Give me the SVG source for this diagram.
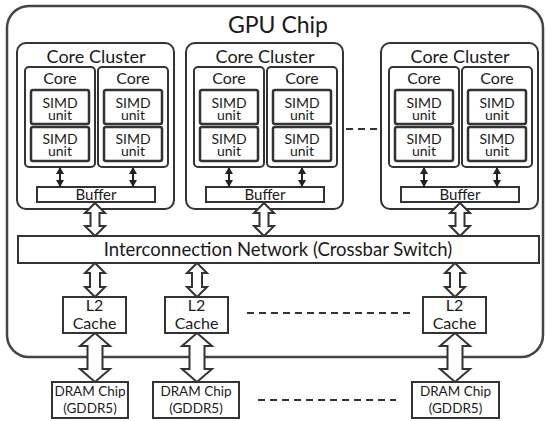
<svg xmlns="http://www.w3.org/2000/svg" width="546" height="421" viewBox="0 0 546 421">
<defs>
<style>
.box{fill:#fff;stroke:#333;stroke-width:2}
.simd{fill:#fff;stroke:#333;stroke-width:2.5}
.outer{fill:#fff;stroke:#444;stroke-width:2.5}
.t{font-family:Lato,"Open Sans",sans-serif;fill:#1a1a1a;text-anchor:middle}
.hollow{fill:#fff;stroke:#333;stroke-width:2;stroke-linejoin:miter}
.small{stroke:#222;stroke-width:2;fill:none}
.dash{stroke:#333;stroke-width:2;stroke-dasharray:7 5;fill:none}
</style>
<marker id="ah" viewBox="0 0 7 8" refX="6.5" refY="4" markerWidth="7" markerHeight="8" orient="auto-start-reverse" markerUnits="userSpaceOnUse">
<path d="M0,0 L7,4 L0,8 Z" fill="#222"/>
</marker>
<g id="core">
<rect class="box" x="0" y="0" width="70" height="100" rx="4"/>
<text class="t" x="35" y="16.5" font-size="16">Core</text>
<rect class="simd" x="6" y="23" width="58" height="34" rx="2"/>
<text class="t" x="35" y="40.5" font-size="14">SIMD</text>
<text class="t" x="35" y="52.5" font-size="14">unit</text>
<rect class="simd" x="6" y="60" width="58" height="34" rx="2"/>
<text class="t" x="35" y="77" font-size="14">SIMD</text>
<text class="t" x="35" y="89" font-size="14">unit</text>
</g>
<g id="clusterBody">
<rect class="box" x="0" y="0" width="157" height="166" rx="9"/>
<text class="t" x="79" y="19.5" font-size="18">Core Cluster</text>
<rect class="box" x="20" y="144" width="118" height="15"/>
<text class="t" x="79" y="157" font-size="15">Buffer</text>
</g>
</defs>
<g id="gpu-chip">
<rect class="outer" x="7" y="6" width="536" height="351" rx="22"/>
<text class="t" x="278" y="33" font-size="23">GPU Chip</text>
</g>
<g id="cluster1" transform="translate(17,43)">
<use href="#clusterBody"/>
<g id="cluster1-core1" transform="translate(8,24)"><use href="#core"/></g>
<g id="cluster1-core2" transform="translate(81,24)"><use href="#core"/></g>
</g>
<g id="cluster2" transform="translate(186,43)">
<use href="#clusterBody"/>
<g id="cluster2-core1" transform="translate(8,24)"><use href="#core"/></g>
<g id="cluster2-core2" transform="translate(81,24)"><use href="#core"/></g>
</g>
<g id="cluster3" transform="translate(381,43)">
<use href="#clusterBody"/>
<g id="cluster3-core1" transform="translate(8,24)"><use href="#core"/></g>
<g id="cluster3-core2" transform="translate(81,24)"><use href="#core"/></g>
</g>
<g id="interconnect">
<rect class="box" x="18" y="236" width="521" height="27"/>
<text class="t" x="278" y="256" font-size="18.5">Interconnection Network (Crossbar Switch)</text>
</g>
<g id="l2-1">
<rect class="box" x="63" y="297" width="63" height="36"/>
<text class="t" x="94.5" y="311" font-size="16">L2</text>
<text class="t" x="94.5" y="329" font-size="16">Cache</text>
</g>
<g id="l2-2">
<rect class="box" x="165" y="297" width="63" height="36"/>
<text class="t" x="196.5" y="311" font-size="16">L2</text>
<text class="t" x="196.5" y="329" font-size="16">Cache</text>
</g>
<g id="l2-3">
<rect class="box" x="423" y="297" width="63" height="36"/>
<text class="t" x="454.5" y="311" font-size="16">L2</text>
<text class="t" x="454.5" y="329" font-size="16">Cache</text>
</g>
<g id="dram-1">
<rect class="box" x="52" y="382" width="76" height="36"/>
<text class="t" x="90" y="396" font-size="13.5">DRAM Chip</text>
<text class="t" x="90" y="413" font-size="13.5">(GDDR5)</text>
</g>
<g id="dram-2">
<rect class="box" x="153" y="382" width="86" height="36"/>
<text class="t" x="196" y="396" font-size="13.5">DRAM Chip</text>
<text class="t" x="196" y="413" font-size="13.5">(GDDR5)</text>
</g>
<g id="dram-3">
<rect class="box" x="412" y="382" width="87" height="36"/>
<text class="t" x="455.5" y="396" font-size="13.5">DRAM Chip</text>
<text class="t" x="455.5" y="413" font-size="13.5">(GDDR5)</text>
</g>
<g id="connectors">
<line class="small" x1="60" y1="167.5" x2="60" y2="186.5" marker-start="url(#ah)" marker-end="url(#ah)"/>
<line class="small" x1="133" y1="167.5" x2="133" y2="186.5" marker-start="url(#ah)" marker-end="url(#ah)"/>
<line class="small" x1="229" y1="167.5" x2="229" y2="186.5" marker-start="url(#ah)" marker-end="url(#ah)"/>
<line class="small" x1="302" y1="167.5" x2="302" y2="186.5" marker-start="url(#ah)" marker-end="url(#ah)"/>
<line class="small" x1="424" y1="167.5" x2="424" y2="186.5" marker-start="url(#ah)" marker-end="url(#ah)"/>
<line class="small" x1="497" y1="167.5" x2="497" y2="186.5" marker-start="url(#ah)" marker-end="url(#ah)"/>
<path class="hollow" d="M95,203 L105,213 L99.5,213 L99.5,226 L105,226 L95,236 L85,226 L90.5,226 L90.5,213 L85,213 Z"/>
<path class="hollow" d="M264,203 L274,213 L268.5,213 L268.5,226 L274,226 L264,236 L254,226 L259.5,226 L259.5,213 L254,213 Z"/>
<path class="hollow" d="M460,203 L470,213 L464.5,213 L464.5,226 L470,226 L460,236 L450,226 L455.5,226 L455.5,213 L450,213 Z"/>
<path class="hollow" d="M95,263 L105,273 L100,273 L100,287 L105,287 L95,297 L85,287 L90,287 L90,273 L85,273 Z"/>
<path class="hollow" d="M197,263 L207,273 L202,273 L202,287 L207,287 L197,297 L187,287 L192,287 L192,273 L187,273 Z"/>
<path class="hollow" d="M455,263 L465,273 L460,273 L460,287 L465,287 L455,297 L445,287 L450,287 L450,273 L445,273 Z"/>
<path class="hollow" d="M95,333 L110,346 L102.5,346 L102.5,369 L110,369 L95,382 L80,369 L87.5,369 L87.5,346 L80,346 Z"/>
<path class="hollow" d="M197,333 L212,346 L204.5,346 L204.5,369 L212,369 L197,382 L182,369 L189.5,369 L189.5,346 L182,346 Z"/>
<path class="hollow" d="M455,333 L470,346 L462.5,346 L462.5,369 L470,369 L455,382 L440,369 L447.5,369 L447.5,346 L440,346 Z"/>
<line class="dash" x1="346" y1="129" x2="380" y2="129"/>
<line class="dash" x1="247" y1="313" x2="412" y2="313"/>
<line class="dash" x1="258" y1="400" x2="396" y2="400"/>
</g>
</svg>
